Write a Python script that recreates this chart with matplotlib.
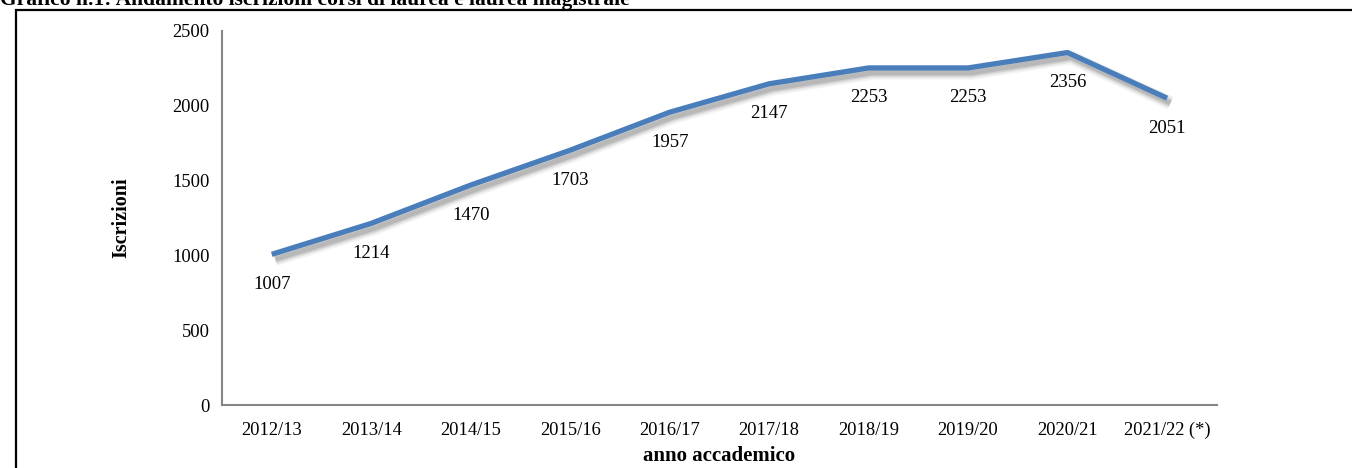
import matplotlib
matplotlib.use("Agg")
import matplotlib.pyplot as plt
import matplotlib.patheffects as pe
from matplotlib.patches import Rectangle

plt.rcParams['font.family'] = ['Liberation Serif', 'DejaVu Serif']

# data
anni = ["2012/13", "2013/14", "2014/15", "2015/16", "2016/17",
        "2017/18", "2018/19", "2019/20", "2020/21", "2021/22 (*)"]
iscrizioni = [1007, 1214, 1470, 1703, 1957, 2147, 2253, 2253, 2356, 2051]
y_ticks = [0, 500, 1000, 1500, 2000, 2500]

fig = plt.figure(figsize=(13.52, 4.68), dpi=100)
ax = fig.add_axes([0.1642, 0.1346, 0.7358, 0.7992])

x = list(range(len(anni)))
# soft drop shadow built from a few translucent layers
shadow = [pe.SimpleLineShadow(offset=(2.5, -3.5), shadow_color='#404040', alpha=a, rho=1.0, linewidth=w)
          for w, a in [(10, 0.06), (7.5, 0.08), (5.5, 0.12), (3.5, 0.16)]]
ax.plot(x, iscrizioni, color='#4A7EBB', lw=3.8, solid_capstyle='butt',
        path_effects=shadow + [pe.Normal()])

for xi, v in zip(x, iscrizioni):
    ax.annotate(str(v), (xi, v), xytext=(0, -30), textcoords='offset pixels',
                ha='center', va='center', fontsize=13.5)

ax.set_xlim(-0.5, len(anni) - 0.5)
ax.set_ylim(0, 2500)
ax.set_yticks(y_ticks)
ax.set_xticks(x)
ax.set_xticklabels(anni)
ax.tick_params(length=0, labelsize=13.3)
ax.tick_params(axis='x', pad=12)
ax.tick_params(axis='y', pad=9)

for s in ['top', 'right']:
    ax.spines[s].set_visible(False)
for s in ['left', 'bottom']:
    ax.spines[s].set_color('#868686')
    ax.spines[s].set_linewidth(1.5)

ax.set_ylabel("Iscrizioni", fontweight='bold', fontsize=14.5, labelpad=29)
ax.set_xlabel("anno accademico", fontweight='bold', fontsize=15, labelpad=5)

# outer frame of the chart box
fig.patches.append(Rectangle((16 / 1352, -0.1), 1.2, 1 - 10 / 468 + 0.1,
                             transform=fig.transFigure, fill=False,
                             edgecolor='black', lw=1.6))

fig.text(0.0, 1 - 5 / 468, "Grafico n.1: Andamento iscrizioni corsi di laurea e laurea magistrale",
         fontweight='bold', fontsize=15.5, ha='left', va='baseline')

fig.savefig("out.png", dpi=100)
